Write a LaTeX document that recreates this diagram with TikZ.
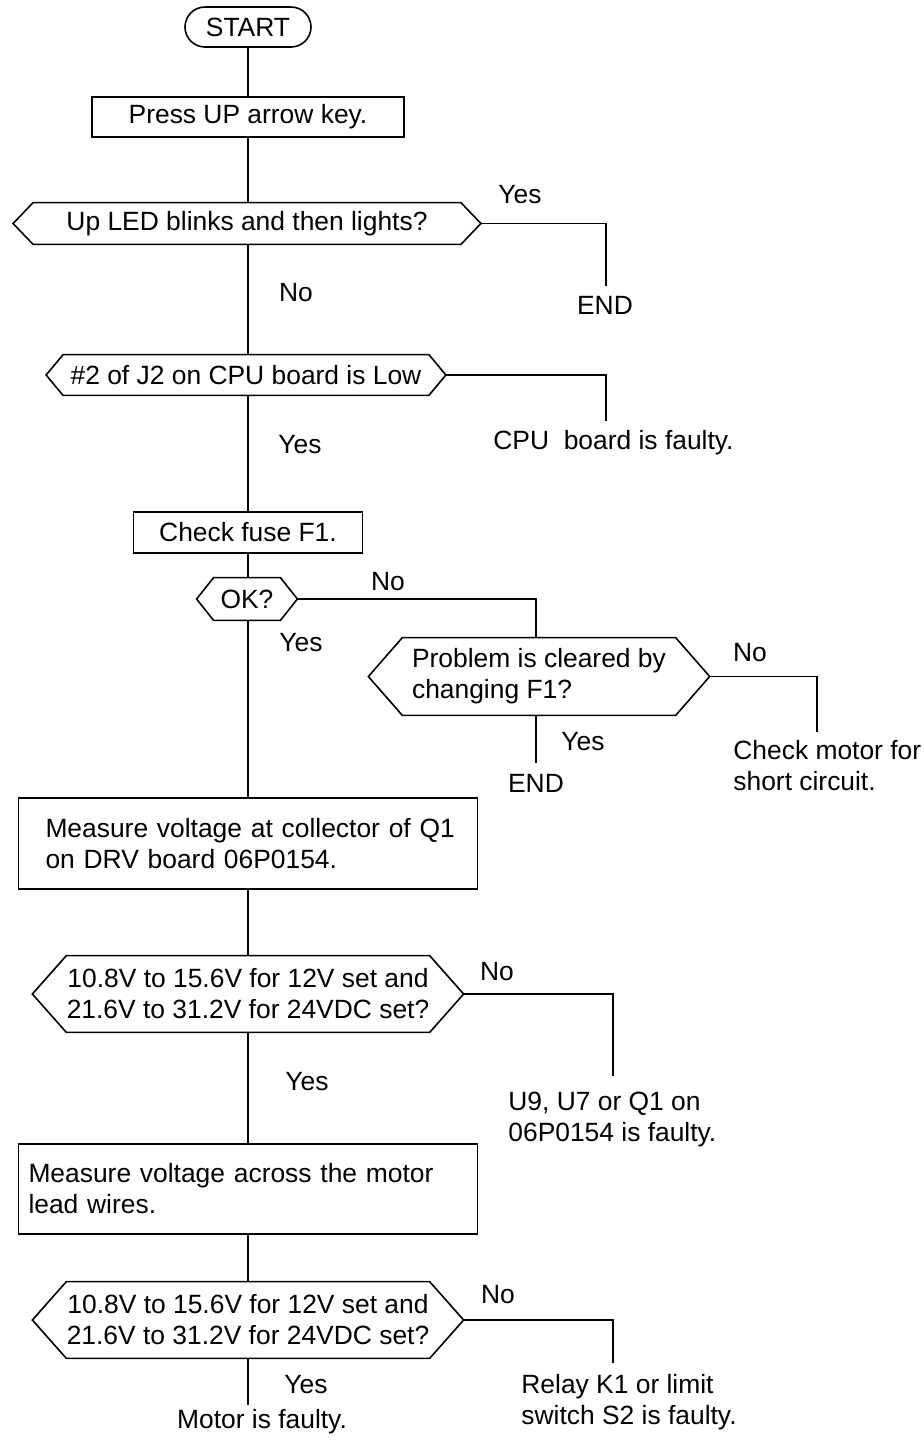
\documentclass[tikz,border=0pt]{standalone}
\usepackage{fontspec}
\setmainfont{Liberation Sans}
\usetikzlibrary{calc}
\newcommand\fsz{\fontsize{13.2}{15.5}\selectfont}
\newcommand\hexdraw[2]{%
  \draw[conn] (#1.north west) -- (#1.north east) -- ([xshift=#2]#1.east) -- (#1.south east) -- (#1.south west) -- ([xshift=-#2]#1.west) -- cycle;
  \coordinate (#1-L) at ([xshift=-#2]#1.west);
  \coordinate (#1-R) at ([xshift=#2]#1.east);}
\tikzset{
  conn/.style={line width=0.8pt, black},
  lbl/.style={font=\fsz, inner sep=0pt, align=left},
  box/.style={draw, line width=0.8pt, inner sep=0pt, font=\fsz, align=center},
  hexbody/.style={inner sep=0pt, font=\fsz, align=center},
}
\begin{document}
\begin{tikzpicture}[x=0.5pt, y=-0.5pt]
\useasboundingbox (0,0) rectangle (924,1441);

% main column
\node[box, rounded corners=10pt, minimum width=63pt, minimum height=20pt] (start) at (248,27) {START};
\node[box, minimum width=156pt, minimum height=20pt] (press) at (248,117) {Press UP arrow key.};
\node[hexbody, minimum width=213.5pt, minimum height=20.5pt] (d1) at (247,223.5) {Up LED blinks and then lights?};
\hexdraw{d1}{10pt}
\node[hexbody, minimum width=182.5pt, minimum height=20pt] (d2) at (246,375) {\#2 of J2 on CPU board is Low};
\hexdraw{d2}{8.5pt}
\node[box, minimum width=114.5pt, minimum height=20.5pt] (check) at (248,532.5) {Check fuse F1.};
\node[hexbody, minimum width=33pt, minimum height=21pt] (ok) at (247,599) {OK?};
\hexdraw{ok}{8.5pt}
\node[hexbody, align=left, minimum width=136.25pt, minimum height=38.5pt] (prob) at (539,676.5) {Problem is cleared by\\changing F1?};
\hexdraw{prob}{17pt}
\node[box, align=left, inner xsep=0pt, text width=229.5pt, minimum height=45.5pt] (meas1) at (248,843.5) {\hspace*{13.5pt}Measure voltage at collector of Q1\\\hspace*{13.5pt}on DRV board 06P0154.};
\node[hexbody, minimum width=177pt, minimum height=38pt] (d3) at (248,994) {10.8V to 15.6V for 12V set and\\21.6V to 31.2V for 24VDC set?};
\hexdraw{d3}{17pt}
\node[box, align=left, inner xsep=0pt, text width=229.5pt, minimum height=45pt] (meas2) at (248,1189) {\hspace*{5pt}Measure voltage across the motor\\\hspace*{5pt}lead wires.};
\node[hexbody, minimum width=177pt, minimum height=38pt] (d4) at (248,1320) {10.8V to 15.6V for 12V set and\\21.6V to 31.2V for 24VDC set?};
\hexdraw{d4}{17pt}

% labels and outcomes
\node[lbl] (yes1) at (520,195) {Yes};
\node[lbl] (end1) at (605,305) {END};
\node[lbl] (no1) at (296,293) {No};
\node[lbl, anchor=west] (cpu) at (493,443) {CPU\ \ board is faulty.};
\node[lbl] (yes2) at (300,445) {Yes};
\node[lbl] (no2) at (388,582) {No};
\node[lbl] (yes3) at (301,643) {Yes};
\node[lbl] (yes4) at (583,742) {Yes};
\node[lbl] (end2) at (536,783) {END};
\node[lbl] (no3) at (750,653) {No};
\node[lbl, anchor=west] (motor) at (733,766) {Check motor for\\short circuit.};
\node[lbl] (no4) at (497,972) {No};
\node[lbl] (yes5) at (307,1082) {Yes};
\node[lbl, anchor=west] (u9) at (508,1120) {U9, U7 or Q1 on\\06P0154 is faulty.};
\node[lbl] (no5) at (498,1295) {No};
\node[lbl] (yes6) at (306,1385) {Yes};
\node[lbl, anchor=west] (relay) at (521,1402) {Relay K1 or limit\\switch S2 is faulty.};
\node[lbl] (mfault) at (262,1422) {Motor is faulty.};

% free ends
\coordinate (e1) at (606,286);
\coordinate (e2) at (606,421);
\coordinate (okturn) at (536,599);
\coordinate (e3) at (536,763);
\coordinate (e4) at (817,732);
\coordinate (e5) at (613,1076);
\coordinate (e6) at (613,1363);
\coordinate (e7) at (248,1405);

% connectors
\draw[conn] (start.south) -- (press.north);
\draw[conn] (press.south) -- (press.south |- d1.north);
\draw[conn] (press.south |- d1.south) -- (press.south |- d2.north);
\draw[conn] (press.south |- d2.south) -- (check.north);
\draw[conn] (check.south) -- (check.south |- ok.north);
\draw[conn] (check.south |- ok.south) -- (meas1.north);
\draw[conn] (meas1.south) -- (d3.north);
\draw[conn] (d3.south) -- (meas2.north);
\draw[conn] (meas2.south) -- (d4.north);
\draw[conn] (d4.south) -- (e7);

\draw[conn] (d1-R) -| (e1);
\draw[conn] (d2-R) -| (e2);
\draw[conn] (ok-R) -- (okturn) -- (okturn |- prob.north);
\draw[conn] (okturn |- prob.south) -- (e3);
\draw[conn] (prob-R) -| (e4);
\draw[conn] (d3-R) -| (e5);
\draw[conn] (d4-R) -| (e6);
\end{tikzpicture}
\end{document}
